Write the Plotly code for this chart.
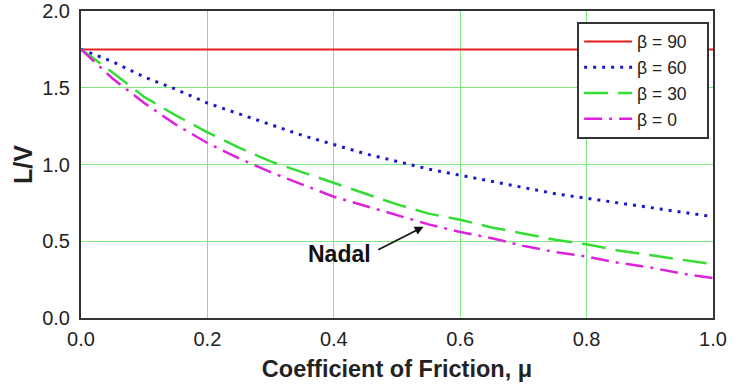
import plotly.graph_objects as go

mu = [0.0, 0.05, 0.1, 0.15, 0.2, 0.25, 0.3, 0.35, 0.4, 0.45, 0.5,
      0.55, 0.6, 0.65, 0.7, 0.75, 0.8, 0.85, 0.9, 0.95, 1.0]
beta90 = [1.75] * 21
beta60 = [1.75, 1.67, 1.57, 1.49, 1.40, 1.33, 1.26, 1.19, 1.13, 1.07, 1.02,
          0.97, 0.93, 0.89, 0.85, 0.81, 0.78, 0.75, 0.72, 0.69, 0.66]
beta30 = [1.75, 1.60, 1.44, 1.32, 1.21, 1.11, 1.02, 0.95, 0.88, 0.81, 0.74,
          0.68, 0.64, 0.59, 0.55, 0.51, 0.48, 0.44, 0.41, 0.38, 0.35]
beta0 = [1.75, 1.56, 1.40, 1.26, 1.14, 1.04, 0.95, 0.87, 0.79, 0.73, 0.67,
         0.61, 0.56, 0.52, 0.47, 0.43, 0.40, 0.36, 0.33, 0.29, 0.26]
labels = ["β = 90", "β = 60", "β = 30", "β = 0"]
xticks = [0.0, 0.2, 0.4, 0.6, 0.8, 1.0]
yticks = [0.0, 0.5, 1.0, 1.5, 2.0]

FONT = "Liberation Sans, Arial, Helvetica, sans-serif"

fig = go.Figure()
styles = [
    ("#e62020", "solid", 2),
    ("#1a1acc", "3px,6px", 3),
    ("#33dd33", "24px,10px", 2.5),
    ("#dd22dd", "18px,7px,3px,7px", 2.5),
]
for ys, lab, (c, d, w) in zip([beta90, beta60, beta30, beta0], labels, styles):
    fig.add_trace(go.Scatter(x=mu, y=ys, mode="lines",
                             name=lab + "\u00a0\u00a0\u00a0",
                             line=dict(color=c, dash=d, width=w)))

fig.add_annotation(x=0.542, y=0.595, ax=0.468, ay=0.44, xref="x", yref="y",
                   axref="x", ayref="y", text="", showarrow=True,
                   arrowhead=2, arrowsize=1.1, arrowwidth=1.6, arrowcolor="#111")
fig.add_annotation(x=0.462, y=0.42, xref="x", yref="y", text="<b>Nadal</b>",
                   showarrow=False, xanchor="right",
                   font=dict(family=FONT, size=23, color="#111"))

fig.update_layout(
    width=745, height=389,
    margin=dict(l=81, r=32, t=11, b=71, autoexpand=False),
    paper_bgcolor="white", plot_bgcolor="white",
    font=dict(family=FONT, size=20, color="#222"),
    legend=dict(x=0.785, y=0.965, xanchor="left", yanchor="top",
                bordercolor="#333", borderwidth=2, bgcolor="white",
                font=dict(family=FONT, size=17.5, color="#222"),
                tracegroupgap=0, itemwidth=48),
    showlegend=True,
)
fig.update_xaxes(range=[0, 1], tickvals=xticks, ticktext=[f"{v:.1f}" for v in xticks],
                 showgrid=True, gridcolor="#7fe87f", gridwidth=1,
                 showline=True, mirror=True, linecolor="#333", linewidth=2,
                 ticks="", zeroline=False, ticklabelstandoff=2, automargin=False,
                 tickfont=dict(family=FONT, size=20),
                 title=dict(text="<b>Coefficient of Friction, μ</b>",
                            font=dict(family=FONT, size=23.5), standoff=12))
fig.update_yaxes(range=[0, 2], tickvals=yticks, ticktext=[f"{v:.1f}" for v in yticks],
                 showgrid=True, gridcolor="#7fe87f", gridwidth=1,
                 showline=True, mirror=True, linecolor="#333", linewidth=2,
                 ticks="", zeroline=False, ticklabelstandoff=5, automargin=False,
                 tickfont=dict(family=FONT, size=20),
                 title=dict(text="<b>L/V</b>", font=dict(family=FONT, size=25),
                            standoff=2))

fig.write_html("out.html", config={"displayModeBar": False},
               post_script="document.body.style.margin='0';"
                           "document.body.style.overflow='hidden';")
